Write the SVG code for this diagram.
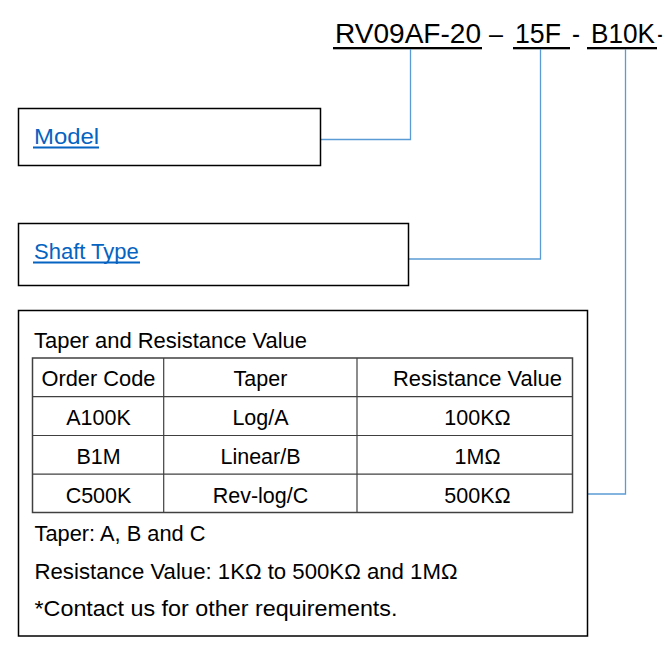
<svg xmlns="http://www.w3.org/2000/svg" width="666" height="658" viewBox="0 0 666 658">
<style>
text{font-family:"Liberation Sans",Arial,sans-serif;fill:#000}
.t{font-size:27px}
.lk{font-size:22px;fill:#0563c1}
.b{font-size:21.5px}
.c{text-anchor:middle}
.box{fill:#fff;stroke:#000;stroke-width:1.5}
.grid{stroke:#404040;stroke-width:1.2;fill:none}
.con{stroke:#5b9bd5;stroke-width:1.3;fill:none}
</style>
<rect width="666" height="658" fill="#fff"/>
<g id="title">
<text class="t" x="335" y="43" textLength="146" lengthAdjust="spacingAndGlyphs">RV09AF-20</text>
<text class="t" x="489" y="43" textLength="14" lengthAdjust="spacingAndGlyphs">–</text>
<text class="t" x="515" y="43" textLength="46" lengthAdjust="spacingAndGlyphs">15F</text>
<text class="t" x="572" y="43" textLength="8" lengthAdjust="spacingAndGlyphs">-</text>
<text class="t" x="591" y="43" textLength="64" lengthAdjust="spacingAndGlyphs">B10K</text>
<text class="t" x="657.5" y="43" textLength="5" lengthAdjust="spacingAndGlyphs">-</text>
<rect x="333" y="47" width="149" height="2.3" fill="#000"/>
<rect x="513" y="47" width="57" height="2.3" fill="#000"/>
<rect x="587" y="47" width="70" height="2.3" fill="#000"/>
</g>
<g id="connectors">
<polyline class="con" points="410.5,49 410.5,139.5 320.5,139.5"/>
<polyline class="con" points="540.5,49 540.5,259 408.5,259"/>
<polyline class="con" points="625.5,49 625.5,494 586,494"/>
</g>
<g id="model">
<rect class="box" x="18.5" y="108.5" width="302" height="57"/>
<text class="lk" x="34" y="144" textLength="65" lengthAdjust="spacingAndGlyphs">Model</text>
<rect x="33" y="146.5" width="66" height="2" fill="#0563c1"/>
</g>
<g id="shaft">
<rect class="box" x="18.5" y="223.5" width="390" height="62"/>
<text class="lk" x="34" y="259">Shaft Type</text>
<rect x="33" y="261.5" width="107" height="2" fill="#0563c1"/>
</g>
<g id="taper">
<rect class="box" x="18.5" y="310.5" width="569" height="325.5"/>
<text class="b" x="34" y="347.5" textLength="273" lengthAdjust="spacingAndGlyphs">Taper and Resistance Value</text>
<rect class="grid" x="32.5" y="358" width="540" height="154.5" style="stroke-width:1.5"/>
<line class="grid" x1="32.5" y1="396.7" x2="572.5" y2="396.7"/>
<line class="grid" x1="32.5" y1="435.5" x2="572.5" y2="435.5"/>
<line class="grid" x1="32.5" y1="474.2" x2="572.5" y2="474.2"/>
<line class="grid" x1="163.7" y1="358" x2="163.7" y2="512.5"/>
<line class="grid" x1="357" y1="358" x2="357" y2="512.5"/>
<text class="b c" x="98.5" y="386" textLength="114" lengthAdjust="spacingAndGlyphs">Order Code</text>
<text class="b c" x="260.5" y="386">Taper</text>
<text class="b c" x="477.5" y="386" textLength="169" lengthAdjust="spacingAndGlyphs">Resistance Value</text>
<text class="b c" x="98.5" y="425">A100K</text>
<text class="b c" x="260.5" y="425">Log/A</text>
<text class="b c" x="477.5" y="425">100KΩ</text>
<text class="b c" x="98.5" y="464">B1M</text>
<text class="b c" x="260.5" y="464">Linear/B</text>
<text class="b c" x="477.5" y="464">1MΩ</text>
<text class="b c" x="98.5" y="503">C500K</text>
<text class="b c" x="260.5" y="503">Rev-log/C</text>
<text class="b c" x="477.5" y="503">500KΩ</text>
<text class="b" x="34.5" y="541" textLength="171" lengthAdjust="spacingAndGlyphs">Taper: A, B and C</text>
<text class="b" x="34.5" y="578.5" textLength="423" lengthAdjust="spacingAndGlyphs">Resistance Value: 1KΩ to 500KΩ and 1MΩ</text>
<text class="b" x="34.5" y="616" textLength="363" lengthAdjust="spacingAndGlyphs">*Contact us for other requirements.</text>
</g>
</svg>
